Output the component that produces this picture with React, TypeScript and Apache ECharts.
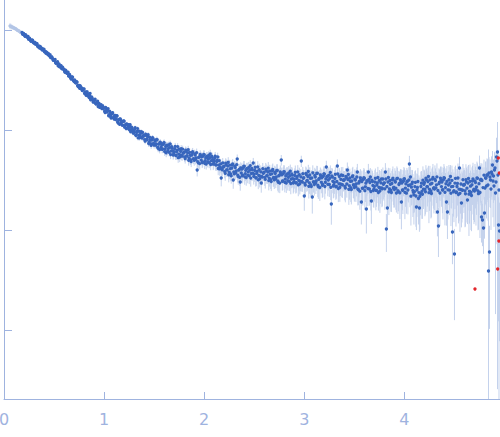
import React, { useEffect, useRef } from "react";
import * as echarts from "echarts";

// q (1/nm) and log10 intensity; sigma in units of 1e-4 (absolute intensity)
const START_Q = [0.06, 0.07, 0.08, 0.09, 0.1, 0.11, 0.12, 0.13, 0.14, 0.15, 0.16, 0.17];
const START_LOGI = [0.04, 0.035, 0.03, 0.025, 0.02, 0.015, 0.01, 0, -0.005, -0.01, -0.02, -0.025];
const START_SIGMA_E4 = [800, 700, 600, 500, 450, 400, 350, 300, 280, 260, 240, 220];

const MAIN_Q = [
  0.18, 0.19,
  0.2, 0.21, 0.22, 0.23, 0.24, 0.25, 0.26, 0.27, 0.28, 0.29,
  0.3, 0.31, 0.32, 0.33, 0.34, 0.35, 0.36, 0.37, 0.38, 0.39,
  0.4, 0.41, 0.42, 0.43, 0.44, 0.45, 0.46, 0.47, 0.48, 0.49,
  0.5, 0.51, 0.52, 0.53, 0.54, 0.55, 0.56, 0.57, 0.58, 0.59,
  0.6, 0.61, 0.62, 0.63, 0.64, 0.65, 0.66, 0.67, 0.68, 0.69,
  0.7, 0.71, 0.72, 0.73, 0.74, 0.75, 0.76, 0.77, 0.78, 0.79,
  0.8, 0.81, 0.82, 0.83, 0.84, 0.85, 0.86, 0.87, 0.88, 0.89,
  0.9, 0.91, 0.92, 0.93, 0.94, 0.95, 0.96, 0.97, 0.98, 0.99,
  1.0, 1.01, 1.02, 1.03, 1.04, 1.05, 1.06, 1.07, 1.08, 1.09,
  1.1, 1.11, 1.12, 1.13, 1.14, 1.15, 1.16, 1.17, 1.18, 1.19,
  1.2, 1.21, 1.22, 1.23, 1.24, 1.25, 1.26, 1.27, 1.28, 1.29,
  1.3, 1.31, 1.32, 1.33, 1.34, 1.35, 1.36, 1.37, 1.38, 1.39,
  1.4, 1.41, 1.42, 1.43, 1.44, 1.45, 1.46, 1.47, 1.48, 1.49,
  1.5, 1.51, 1.52, 1.53, 1.54, 1.55, 1.56, 1.57, 1.58, 1.59,
  1.6, 1.61, 1.62, 1.63, 1.64, 1.65, 1.66, 1.67, 1.68, 1.69,
  1.7, 1.71, 1.72, 1.73, 1.74, 1.75, 1.76, 1.77, 1.78, 1.79,
  1.8, 1.81, 1.82, 1.83, 1.84, 1.85, 1.86, 1.87, 1.88, 1.89,
  1.9, 1.91, 1.92, 1.93, 1.94, 1.95, 1.96, 1.97, 1.98, 1.99,
  2.0, 2.01, 2.02, 2.03, 2.04, 2.05, 2.06, 2.07, 2.08, 2.09,
  2.1, 2.11, 2.12, 2.13, 2.14, 2.15, 2.16, 2.17, 2.18, 2.19,
  2.2, 2.21, 2.22, 2.23, 2.24, 2.25, 2.26, 2.27, 2.28, 2.29,
  2.3, 2.31, 2.32, 2.33, 2.34, 2.35, 2.36, 2.37, 2.38, 2.39,
  2.4, 2.41, 2.42, 2.43, 2.44, 2.45, 2.46, 2.47, 2.48, 2.49,
  2.5, 2.51, 2.52, 2.53, 2.54, 2.55, 2.56, 2.57, 2.58, 2.59,
  2.6, 2.61, 2.62, 2.63, 2.64, 2.65, 2.66, 2.67, 2.68, 2.69,
  2.7, 2.71, 2.72, 2.73, 2.74, 2.75, 2.76, 2.77, 2.78, 2.79,
  2.8, 2.81, 2.82, 2.83, 2.84, 2.85, 2.86, 2.87, 2.88, 2.89,
  2.9, 2.91, 2.92, 2.93, 2.94, 2.95, 2.96, 2.97, 2.98, 2.99,
  3.0, 3.01, 3.02, 3.03, 3.04, 3.05, 3.06, 3.07, 3.08, 3.09,
  3.1, 3.11, 3.12, 3.13, 3.14, 3.15, 3.16, 3.17, 3.18, 3.19,
  3.2, 3.21, 3.22, 3.23, 3.24, 3.25, 3.26, 3.27, 3.28, 3.29,
  3.3, 3.31, 3.32, 3.33, 3.34, 3.35, 3.36, 3.37, 3.38, 3.39,
  3.4, 3.41, 3.42, 3.43, 3.44, 3.45, 3.46, 3.47, 3.48, 3.49,
  3.5, 3.51, 3.52, 3.53, 3.54, 3.55, 3.56, 3.57, 3.58, 3.59,
  3.6, 3.61, 3.62, 3.63, 3.64, 3.65, 3.66, 3.67, 3.68, 3.69,
  3.7, 3.71, 3.72, 3.73, 3.74, 3.75, 3.76, 3.77, 3.78, 3.79,
  3.8, 3.81, 3.82, 3.83, 3.84, 3.85, 3.86, 3.87, 3.88, 3.89,
  3.9, 3.91, 3.92, 3.93, 3.94, 3.95, 3.96, 3.97, 3.98, 3.99,
  4.0, 4.01, 4.02, 4.03, 4.04, 4.05, 4.06, 4.07, 4.08, 4.09,
  4.1, 4.11, 4.12, 4.13, 4.14, 4.15, 4.16, 4.17, 4.18, 4.19,
  4.2, 4.21, 4.22, 4.23, 4.24, 4.25, 4.26, 4.27, 4.28, 4.29,
  4.3, 4.31, 4.32, 4.33, 4.34, 4.35, 4.36, 4.37, 4.38, 4.39,
  4.4, 4.41, 4.42, 4.43, 4.44, 4.45, 4.46, 4.47, 4.48, 4.49,
  4.5, 4.51, 4.52, 4.53, 4.54, 4.55, 4.56, 4.57, 4.58, 4.59,
  4.6, 4.61, 4.62, 4.63, 4.64, 4.65, 4.66, 4.67, 4.68, 4.69,
  4.7, 4.71, 4.72, 4.73, 4.74, 4.75, 4.76, 4.77, 4.78, 4.79,
  4.8, 4.81, 4.82, 4.83, 4.84, 4.85, 4.86, 4.87, 4.88, 4.89,
  4.9, 4.91, 4.92, 4.93, 4.94, 4.95,
];

const MAIN_LOGI = [
  -0.024, -0.044,
  -0.041, -0.063, -0.054, -0.071, -0.065, -0.091, -0.092, -0.113, -0.101, -0.122,
  -0.132, -0.128, -0.142, -0.138, -0.168, -0.163, -0.165, -0.185, -0.197, -0.191,
  -0.195, -0.218, -0.234, -0.226, -0.241, -0.257, -0.248, -0.272, -0.275, -0.3,
  -0.304, -0.294, -0.333, -0.325, -0.358, -0.339, -0.367, -0.356, -0.389, -0.388,
  -0.395, -0.424, -0.409, -0.434, -0.422, -0.459, -0.459, -0.49, -0.47, -0.501,
  -0.516, -0.509, -0.529, -0.522, -0.565, -0.556, -0.557, -0.585, -0.603, -0.591,
  -0.59, -0.628, -0.653, -0.618, -0.65, -0.675, -0.635, -0.685, -0.68, -0.72,
  -0.71, -0.692, -0.741, -0.725, -0.766, -0.735, -0.768, -0.746, -0.787, -0.78,
  -0.78, -0.826, -0.785, -0.821, -0.787, -0.848, -0.835, -0.881, -0.83, -0.876,
  -0.891, -0.863, -0.888, -0.86, -0.93, -0.898, -0.888, -0.93, -0.951, -0.916,
  -0.912, -0.958, -0.986, -0.944, -0.968, -0.996, -0.947, -0.996, -0.982, -1.031,
  -1.019, -0.976, -1.054, -1.015, -1.079, -1.013, -1.064, -1.016, -1.081, -1.06,
  -1.057, -1.112, -1.054, -1.096, -1.047, -1.12, -1.099, -1.154, -1.083, -1.138,
  -1.152, -1.112, -1.139, -1.098, -1.184, -1.139, -1.121, -1.17, -1.193, -1.143,
  -1.126, -1.191, -1.228, -1.155, -1.186, -1.223, -1.139, -1.209, -1.18, -1.25,
  -1.221, -1.164, -1.255, -1.203, -1.277, -1.192, -1.25, -1.187, -1.262, -1.232,
  -1.224, -1.287, -1.213, -1.26, -1.197, -1.283, -1.253, -1.316, -1.226, -1.289,
  -1.303, -1.25, -1.28, -1.4, -1.328, -1.269, -1.244, -1.301, -1.325, -1.261,
  -1.246, -1.307, -1.34, -1.265, -1.292, -1.327, -1.239, -1.307, -1.274, -1.342,
  -1.311, -1.261, -1.349, -1.304, -1.385, -1.307, -1.372, -1.48, -1.398, -1.37,
  -1.361, -1.434, -1.345, -1.399, -1.323, -1.423, -1.386, -1.459, -1.35, -1.5,
  -1.439, -1.376, -1.41, -1.29, -1.465, -1.395, -1.52, -1.43, -1.458, -1.381,
  -1.363, -1.436, -1.476, -1.386, -1.419, -1.459, -1.356, -1.435, -1.397, -1.33,
  -1.443, -1.373, -1.478, -1.414, -1.499, -1.396, -1.462, -1.53, -1.471, -1.433,
  -1.421, -1.494, -1.404, -1.458, -1.381, -1.481, -1.443, -1.516, -1.407, -1.48,
  -1.499, -1.435, -1.469, -1.405, -1.523, -1.452, -1.42, -1.3, -1.514, -1.437,
  -1.418, -1.491, -1.531, -1.441, -1.474, -1.514, -1.411, -1.49, -1.452, -1.531,
  -1.493, -1.423, -1.528, -1.464, -1.549, -1.446, -1.512, -1.31, -1.521, -1.483,
  -1.66, -1.55, -1.445, -1.505, -1.415, -1.528, -1.483, -1.565, -1.67, -1.52,
  -1.545, -1.47, -1.508, -1.433, -1.568, -1.485, -1.448, -1.523, -1.553, -1.463,
  -1.44, -1.523, -1.37, -1.463, -1.5, -1.545, -1.425, -1.74, -1.47, -1.56,
  -1.525, -1.443, -1.563, -1.36, -1.585, -1.465, -1.54, -1.45, -1.548, -1.503,
  -1.498, -1.58, -1.475, -1.4, -1.445, -1.558, -1.513, -1.595, -1.468, -1.55,
  -1.575, -1.5, -1.538, -1.42, -1.598, -1.515, -1.478, -1.72, -1.583, -1.493,
  -1.485, -1.568, -1.79, -1.508, -1.42, -1.59, -1.47, -1.71, -1.515, -1.605,
  -1.565, -1.483, -1.603, -1.528, -1.625, -1.505, -1.58, -1.49, -1.588, -1.543,
  -1.528, -1.42, -1.99, -1.78, -1.475, -1.588, -1.543, -1.625, -1.498, -1.58,
  -1.595, -1.52, -1.63, -1.483, -1.618, -1.535, -1.498, -1.72, -1.603, -1.513,
  -1.487, -1.581, -1.632, -1.513, -1.555, -1.34, -1.47, -1.572, -1.521, -1.623,
  -1.617, -1.524, -1.77, -1.575, -1.685, -1.78, -1.634, -1.532, -1.643, -1.592,
  -1.525, -1.618, -1.499, -1.567, -1.465, -1.593, -1.542, -1.635, -1.491, -1.584,
  -1.591, -1.506, -1.549, -1.82, -1.96, -1.523, -1.481, -1.566, -1.6, -1.498,
  -1.482, -1.576, -1.72, -1.82, -1.55, -1.601, -1.465, -1.567, -2.02, -1.618,
  -2.24, -1.484, -1.62, -1.535, -1.645, -1.38, -1.594, -1.73, -1.603, -1.552,
  -1.545, -1.638, -1.519, -1.7, -1.485, -1.613, -1.562, -1.655, -1.511, -1.604,
  -1.611, -1.526, -1.569, -1.484, -1.637, -1.38, -1.5, -1.87, -1.9, -1.98,
  -1.83, -1.48, -1.56, -1.45, -2.41, -2.22, -1.5, -1.42, -1.35, -1.46,
  -1.4, -1.63, -1.27, -1.22, -1.95, -2.01,
];

const MAIN_SIGMA_E4 = [
  160, 155,
  150, 148, 146, 144, 142, 140, 138, 136, 134, 132,
  130, 128, 125, 122, 120, 118, 115, 112, 110, 108,
  105, 102, 100, 98, 96, 94, 92, 90, 88, 86,
  84, 82, 80, 78, 76, 74, 72, 70, 68, 66,
  64, 62, 61, 60, 58, 57, 56, 55, 54, 53,
  52, 51, 50, 49, 48, 47, 46, 45, 45, 44,
  44, 43, 43, 42, 42, 41, 41, 40, 40, 40,
  39, 39, 39, 38, 38, 38, 38, 37, 37, 37,
  37, 37, 37, 37, 37, 38, 38, 38, 38, 38,
  39, 39, 40, 40, 41, 41, 42, 42, 43, 43,
  44, 44, 45, 45, 46, 46, 47, 47, 48, 48,
  48, 49, 49, 50, 50, 50, 51, 51, 51, 52,
  52, 52, 52, 53, 53, 53, 53, 54, 54, 54,
  54, 54, 55, 55, 55, 55, 55, 56, 56, 56,
  56, 55, 57, 56, 58, 55, 57, 56, 58, 57,
  56, 58, 55, 57, 59, 56, 58, 57, 55, 58,
  57, 55, 58, 56, 59, 57, 55, 58, 56, 57,
  58, 56, 57, 55, 59, 57, 58, 56, 57, 55,
  56, 58, 55, 57, 59, 56, 58, 57, 55, 58,
  57, 55, 58, 56, 59, 57, 55, 58, 56, 57,
  56, 58, 55, 57, 59, 56, 58, 57, 55, 58,
  57, 55, 58, 56, 59, 57, 55, 58, 56, 57,
  56, 58, 57, 59, 57, 60, 58, 57, 59, 58,
  58, 60, 57, 59, 61, 58, 60, 59, 57, 60,
  59, 61, 58, 60, 62, 59, 61, 60, 58, 61,
  60, 62, 59, 61, 63, 60, 62, 61, 59, 62,
  61, 63, 60, 62, 64, 61, 63, 62, 60, 63,
  62, 64, 61, 63, 65, 62, 64, 63, 61, 64,
  63, 65, 62, 66, 64, 67, 63, 65, 68, 64,
  65, 67, 64, 68, 66, 69, 65, 67, 70, 66,
  67, 69, 66, 70, 68, 71, 67, 69, 72, 68,
  69, 71, 68, 72, 70, 73, 69, 71, 74, 70,
  71, 74, 70, 75, 72, 76, 71, 74, 77, 73,
  74, 77, 73, 78, 75, 79, 74, 77, 80, 76,
  77, 80, 70, 81, 78, 82, 77, 80, 83, 79,
  80, 83, 79, 84, 81, 85, 80, 83, 86, 82,
  83, 86, 42, 60, 84, 88, 83, 86, 89, 85,
  86, 89, 85, 90, 87, 91, 86, 89, 92, 88,
  89, 92, 88, 93, 90, 94, 89, 92, 95, 91,
  92, 95, 70, 96, 93, 70, 92, 95, 98, 94,
  95, 98, 94, 99, 96, 100, 95, 98, 101, 97,
  98, 101, 97, 65, 56, 103, 98, 101, 104, 100,
  102, 106, 80, 70, 104, 110, 103, 107, 50, 105,
  45, 112, 108, 116, 110, 118, 109, 80, 120, 113,
  115, 122, 118, 85, 120, 128, 119, 124, 130, 123,
  125, 132, 128, 136, 130, 138, 129, 60, 57, 47,
  66, 150, 145, 155, 600, 50, 150, 165, 170, 160,
  200, 220, 300, 600, 100, 90,
];

// interleaved measurements (half-step q)
const MID_Q = [
  0.185, 0.195,
  0.205, 0.215, 0.225, 0.235, 0.245, 0.255, 0.265, 0.275, 0.285, 0.295,
  0.305, 0.315, 0.325, 0.335, 0.345, 0.355, 0.365, 0.375, 0.385, 0.395,
  0.405, 0.415, 0.425, 0.435, 0.445, 0.455, 0.465, 0.475, 0.485, 0.495,
  0.505, 0.515, 0.525, 0.535, 0.545, 0.555, 0.565, 0.575, 0.585, 0.595,
  0.605, 0.615, 0.625, 0.635, 0.645, 0.655, 0.665, 0.675, 0.685, 0.695,
  0.705, 0.715, 0.725, 0.735, 0.745, 0.755, 0.765, 0.775, 0.785, 0.795,
  0.805, 0.815, 0.825, 0.835, 0.845, 0.855, 0.865, 0.875, 0.885, 0.895,
  0.905, 0.915, 0.925, 0.935, 0.945, 0.955, 0.965, 0.975, 0.985, 0.995,
  1.005, 1.015, 1.025, 1.035, 1.045, 1.055, 1.065, 1.075, 1.085, 1.095,
  1.105, 1.115, 1.125, 1.135, 1.145, 1.155, 1.165, 1.175, 1.185, 1.195,
  1.205, 1.215, 1.225, 1.235, 1.245, 1.255, 1.265, 1.275, 1.285, 1.295,
  1.305, 1.315, 1.325, 1.335, 1.345, 1.355, 1.365, 1.375, 1.385, 1.395,
  1.405, 1.415, 1.425, 1.435, 1.445, 1.455, 1.465, 1.475, 1.485, 1.495,
  1.505, 1.515, 1.525, 1.535, 1.545, 1.555, 1.565, 1.575, 1.585, 1.595,
  1.605, 1.615, 1.625, 1.635, 1.645, 1.655, 1.665, 1.675, 1.685, 1.695,
  1.705, 1.715, 1.725, 1.735, 1.745, 1.755, 1.765, 1.775, 1.785, 1.795,
  1.805, 1.815, 1.825, 1.835, 1.845, 1.855, 1.865, 1.875, 1.885, 1.895,
  1.905, 1.915, 1.925, 1.935, 1.945, 1.955, 1.965, 1.975, 1.985, 1.995,
  2.005, 2.015, 2.025, 2.035, 2.045, 2.055, 2.065, 2.075, 2.085, 2.095,
  2.105, 2.115, 2.125, 2.135, 2.145, 2.155, 2.165, 2.175, 2.185, 2.195,
  2.205, 2.215, 2.225, 2.235, 2.245, 2.255, 2.265, 2.275, 2.285, 2.295,
  2.305, 2.315, 2.325, 2.335, 2.345, 2.355, 2.365, 2.375, 2.385, 2.395,
  2.405, 2.415, 2.425, 2.435, 2.445, 2.455, 2.465, 2.475, 2.485, 2.495,
  2.505, 2.515, 2.525, 2.535, 2.545, 2.555, 2.565, 2.575, 2.585, 2.595,
  2.605, 2.615, 2.625, 2.635, 2.645, 2.655, 2.665, 2.675, 2.685, 2.695,
  2.705, 2.715, 2.725, 2.735, 2.745, 2.755, 2.765, 2.775, 2.785, 2.795,
  2.805, 2.815, 2.825, 2.835, 2.845, 2.855, 2.865, 2.875, 2.885, 2.895,
  2.905, 2.915, 2.925, 2.935, 2.945, 2.955, 2.965, 2.975, 2.985, 2.995,
  3.005, 3.015, 3.025, 3.035, 3.045, 3.055, 3.065, 3.075, 3.085, 3.095,
  3.105, 3.115, 3.125, 3.135, 3.145, 3.155, 3.165, 3.175, 3.185, 3.195,
  3.205, 3.215, 3.225, 3.235, 3.245, 3.255, 3.265, 3.275, 3.285, 3.295,
  3.305, 3.315, 3.325, 3.335, 3.345, 3.355, 3.365, 3.375, 3.385, 3.395,
  3.405, 3.415, 3.425, 3.435, 3.445, 3.455, 3.465, 3.475, 3.485, 3.495,
  3.505, 3.515, 3.525, 3.535, 3.545, 3.555, 3.565, 3.575, 3.585, 3.595,
  3.605, 3.615, 3.625, 3.635, 3.645, 3.655, 3.665, 3.675, 3.685, 3.695,
  3.705, 3.715, 3.725, 3.735, 3.745, 3.755, 3.765, 3.775, 3.785, 3.795,
  3.805, 3.815, 3.825, 3.835, 3.845, 3.855, 3.865, 3.875, 3.885, 3.895,
  3.905, 3.915, 3.925, 3.935, 3.945, 3.955, 3.965, 3.975, 3.985, 3.995,
  4.005, 4.015, 4.025, 4.035, 4.045, 4.055, 4.065, 4.075, 4.085, 4.095,
  4.105, 4.115, 4.125, 4.135, 4.145, 4.155, 4.165, 4.175, 4.185, 4.195,
  4.205, 4.215, 4.225, 4.235, 4.245, 4.255, 4.265, 4.275, 4.285, 4.295,
  4.305, 4.315, 4.325, 4.335, 4.345, 4.355, 4.365, 4.375, 4.385, 4.395,
  4.405, 4.415, 4.425, 4.435, 4.445, 4.455, 4.465, 4.475, 4.485, 4.495,
  4.505, 4.515, 4.525, 4.535, 4.545, 4.555, 4.565, 4.575, 4.585, 4.595,
  4.605, 4.615, 4.625, 4.635, 4.645, 4.655, 4.665, 4.675, 4.685, 4.695,
  4.705, 4.715, 4.725, 4.735, 4.745, 4.755, 4.765, 4.775, 4.785, 4.795,
  4.805, 4.815, 4.825, 4.835, 4.845, 4.855, 4.865, 4.875, 4.885, 4.895,
  4.905, 4.915, 4.925, 4.935, 4.945,
];

const MID_LOGI = [
  -0.04, -0.035,
  -0.055, -0.047, -0.067, -0.068, -0.092, -0.082, -0.105, -0.103, -0.102, -0.125,
  -0.122, -0.142, -0.134, -0.161, -0.16, -0.181, -0.171, -0.181, -0.2, -0.191,
  -0.219, -0.216, -0.222, -0.243, -0.237, -0.251, -0.276, -0.268, -0.286, -0.302,
  -0.298, -0.328, -0.325, -0.317, -0.35, -0.369, -0.36, -0.382, -0.371, -0.391,
  -0.414, -0.401, -0.429, -0.428, -0.461, -0.445, -0.479, -0.474, -0.472, -0.505,
  -0.5, -0.529, -0.516, -0.556, -0.553, -0.583, -0.566, -0.58, -0.606, -0.591,
  -0.635, -0.62, -0.623, -0.658, -0.638, -0.658, -0.698, -0.67, -0.698, -0.718,
  -0.7, -0.736, -0.728, -0.712, -0.753, -0.774, -0.755, -0.78, -0.758, -0.781,
  -0.812, -0.774, -0.817, -0.804, -0.858, -0.813, -0.867, -0.843, -0.827, -0.877,
  -0.853, -0.895, -0.856, -0.919, -0.898, -0.944, -0.898, -0.912, -0.951, -0.909,
  -0.972, -0.944, -0.94, -0.982, -0.947, -0.968, -1.017, -0.972, -1.003, -1.028,
  -0.995, -1.051, -1.025, -0.986, -1.051, -1.079, -1.036, -1.073, -1.025, -1.058,
  -1.096, -1.042, -1.093, -1.071, -1.136, -1.073, -1.138, -1.102, -1.077, -1.136,
  -1.1, -1.15, -1.096, -1.173, -1.141, -1.195, -1.132, -1.146, -1.19, -1.132,
  -1.216, -1.165, -1.153, -1.212, -1.15, -1.176, -1.246, -1.167, -1.21, -1.241,
  -1.19, -1.254, -1.218, -1.166, -1.241, -1.271, -1.214, -1.255, -1.192, -1.228,
  -1.27, -1.201, -1.259, -1.229, -1.304, -1.224, -1.299, -1.252, -1.217, -1.286,
  -1.238, -1.295, -1.226, -1.316, -1.274, -1.336, -1.256, -1.269, -1.32, -1.245,
  -1.334, -1.279, -1.264, -1.32, -1.255, -1.278, -1.345, -1.263, -1.303, -1.332,
  -1.283, -1.349, -1.315, -1.27, -1.352, -1.389, -1.339, -1.387, -1.329, -1.367,
  -1.414, -1.331, -1.398, -1.361, -1.448, -1.352, -1.439, -1.382, -1.339, -1.419,
  -1.362, -1.429, -1.346, -1.451, -1.401, -1.474, -1.378, -1.392, -1.452, -1.363,
  -1.468, -1.404, -1.386, -1.452, -1.375, -1.402, -1.481, -1.384, -1.431, -1.464,
  -1.405, -1.478, -1.433, -1.369, -1.455, -1.488, -1.418, -1.464, -1.387, -1.427,
  -1.474, -1.391, -1.457, -1.42, -1.506, -1.41, -1.496, -1.439, -1.395, -1.475,
  -1.422, -1.488, -1.405, -1.51, -1.459, -1.531, -1.435, -1.449, -1.508, -1.418,
  -1.523, -1.459, -1.441, -1.507, -1.43, -1.457, -1.535, -1.439, -1.486, -1.519,
  -1.455, -1.528, -1.483, -1.419, -1.505, -1.538, -1.468, -1.514, -1.437, -1.477,
  -1.533, -1.435, -1.51, -1.465, -1.563, -1.45, -1.548, -1.48, -1.428, -1.518,
  -1.455, -1.53, -1.433, -1.553, -1.493, -1.575, -1.463, -1.478, -1.545, -1.44,
  -1.565, -1.49, -1.468, -1.543, -1.453, -1.483, -1.573, -1.46, -1.513, -1.55,
  -1.485, -1.568, -1.515, -1.44, -1.538, -1.575, -1.493, -1.545, -1.455, -1.5,
  -1.563, -1.465, -1.54, -1.495, -1.593, -1.48, -1.578, -1.51, -1.458, -1.548,
  -1.492, -1.567, -1.47, -1.59, -1.53, -1.612, -1.5, -1.515, -1.582, -1.477,
  -1.607, -1.532, -1.51, -1.585, -1.495, -1.525, -1.615, -1.502, -1.555, -1.592,
  -1.52, -1.603, -1.55, -1.475, -1.573, -1.61, -1.528, -1.58, -1.49, -1.535,
  -1.588, -1.49, -1.565, -1.52, -1.618, -1.505, -1.603, -1.535, -1.483, -1.573,
  -1.508, -1.583, -1.486, -1.606, -1.546, -1.628, -1.516, -1.531, -1.598, -1.493,
  -1.623, -1.539, -1.515, -1.6, -1.5, -1.55, -1.662, -1.539, -1.604, -1.649,
  -1.566, -1.66, -1.6, -1.515, -1.626, -1.663, -1.565, -1.614, -1.502, -1.543,
  -1.593, -1.482, -1.567, -1.516, -1.627, -1.499, -1.61, -1.533, -1.474, -1.576,
  -1.494, -1.579, -1.469, -1.605, -1.537, -1.63, -1.503, -1.52, -1.596, -1.477,
  -1.623, -1.538, -1.513, -1.598, -1.496, -1.53, -1.632, -1.504, -1.564, -1.606,
  -1.531, -1.625, -1.565, -1.48, -1.591, -1.633, -1.54, -1.599, -1.497, -1.548,
  -1.608, -1.497, -1.582, -1.531, -1.642, -1.514, -1.625, -1.548, -1.489, -1.591,
  -1.509, -1.594, -1.479, -1.61, -1.537, -1.625, -1.493, -1.505, -1.576, -1.452,
  -1.58, -1.48, -1.45, -1.55, -1.43, -1.47, -1.59, -1.44, -1.51, -1.56,
  -1.38, -1.52, -1.31, -1.45, -1.6,
];

const MID_SIGMA_E4 = [
  158, 152,
  149, 147, 145, 143, 141, 139, 137, 135, 133, 131,
  129, 126, 123, 121, 119, 116, 113, 111, 109, 106,
  103, 101, 99, 97, 95, 93, 91, 89, 87, 85,
  83, 81, 79, 77, 75, 73, 71, 69, 67, 65,
  63, 62, 60, 59, 58, 56, 55, 54, 53, 52,
  51, 50, 49, 48, 47, 46, 45, 45, 44, 44,
  43, 43, 42, 42, 41, 41, 40, 40, 40, 39,
  39, 39, 38, 38, 38, 38, 37, 37, 37, 37,
  37, 37, 37, 37, 37, 38, 38, 38, 38, 39,
  39, 40, 40, 41, 41, 42, 42, 43, 43, 44,
  44, 45, 45, 46, 46, 47, 47, 48, 48, 48,
  49, 49, 50, 50, 50, 51, 51, 51, 52, 52,
  52, 52, 53, 53, 53, 53, 54, 54, 54, 54,
  54, 55, 55, 55, 55, 55, 56, 56, 56, 56,
  57, 55, 58, 56, 57, 59, 56, 58, 55, 57,
  57, 55, 58, 56, 57, 59, 56, 58, 55, 57,
  57, 55, 58, 56, 57, 59, 56, 58, 55, 57,
  57, 55, 58, 56, 57, 59, 56, 58, 55, 57,
  57, 55, 58, 56, 57, 59, 56, 58, 55, 57,
  57, 55, 58, 56, 57, 59, 56, 58, 55, 57,
  57, 55, 58, 56, 57, 59, 56, 58, 55, 57,
  57, 55, 58, 56, 57, 59, 56, 58, 55, 57,
  57, 59, 58, 60, 58, 57, 59, 58, 60, 59,
  59, 61, 58, 60, 62, 59, 61, 60, 58, 61,
  60, 62, 59, 61, 63, 60, 62, 61, 59, 62,
  61, 63, 60, 62, 64, 61, 63, 62, 60, 63,
  62, 64, 61, 63, 65, 62, 64, 63, 61, 64,
  63, 65, 62, 64, 66, 63, 65, 64, 62, 65,
  66, 64, 68, 65, 67, 69, 64, 66, 70, 67,
  68, 66, 70, 67, 69, 71, 66, 68, 72, 69,
  70, 68, 72, 69, 71, 73, 68, 70, 74, 71,
  72, 70, 74, 71, 73, 75, 70, 72, 76, 73,
  76, 74, 78, 75, 77, 79, 74, 76, 80, 77,
  82, 80, 84, 81, 83, 85, 80, 82, 86, 83,
  88, 86, 90, 87, 89, 91, 86, 88, 92, 89,
  94, 92, 96, 93, 95, 97, 92, 94, 98, 95,
  99, 97, 101, 98, 100, 102, 97, 99, 103, 100,
  104, 102, 106, 103, 105, 107, 102, 104, 108, 105,
  110, 107, 112, 108, 111, 113, 107, 110, 114, 111,
  114, 111, 116, 112, 115, 117, 111, 114, 118, 115,
  118, 115, 120, 116, 119, 121, 115, 118, 122, 119,
  122, 119, 124, 120, 123, 125, 119, 122, 126, 123,
  127, 123, 129, 125, 128, 130, 124, 127, 131, 128,
  133, 129, 136, 131, 134, 137, 130, 133, 138, 135,
  140, 136, 143, 138, 141, 145, 137, 140, 146, 142,
  148, 144, 151, 146, 150, 154, 145, 149, 156, 152,
  160, 155, 165, 158, 163, 170, 157, 162, 175, 168,
  190, 230, 260, 280, 320,
];

// points flagged as outliers (drawn in red)
const OUT_Q = [4.705, 4.932, 4.938, 4.944, 4.948];
const OUT_LOGI = [-2.59, -2.39, -1.28, -2.11, -1.43];

const X_TICKS = [0, 1, 2, 3, 4];
const Y_TICKS = [0.001, 0.01, 0.1, 1];
const X_MAX = 4.955;
const Y_MIN_LOG = -3.69;
const Y_MAX_LOG = 0.3;

const AXIS_COLOR = "#9fb3df";

export default function App() {
  const ref = useRef<HTMLDivElement>(null);

  useEffect(() => {
    if (!ref.current) return;
    const chart = echarts.init(ref.current, null, { renderer: "svg" });
    const yMin = Math.pow(10, Y_MIN_LOG);
    const yMax = Math.pow(10, Y_MAX_LOG);

    const allQ = [...MAIN_Q, ...MID_Q];
    const allL = [...MAIN_LOGI, ...MID_LOGI];
    const allS = [...MAIN_SIGMA_E4, ...MID_SIGMA_E4];

    const toPoints = (qs: number[], ls: number[]) => qs.map((q, i) => [q, Math.pow(10, ls[i])]);
    const toBars = (qs: number[], ls: number[], ss: number[]) =>
      qs.map((q, i) => {
        const I = Math.pow(10, ls[i]);
        const s = ss[i] * 1e-4;
        return [q, Math.max(I - s, yMin), Math.min(I + s, yMax)];
      });

    const barSeries = (data: number[][], color: string) => ({
      type: "custom",
      data,
      encode: { x: 0, y: [1, 2] },
      silent: true,
      z: 1,
      renderItem: (_p: any, api: any) => {
        const x = api.value(0);
        const a = api.coord([x, api.value(2)]);
        const b = api.coord([x, api.value(1)]);
        return {
          type: "line",
          shape: { x1: a[0], y1: a[1], x2: b[0], y2: b[1] },
          style: { stroke: color, lineWidth: 1 },
        };
      },
    });

    const dots = (data: number[][], color: string, z: number) => ({
      type: "scatter",
      data,
      symbol: "circle",
      symbolSize: 3.3,
      itemStyle: { color, opacity: 1 },
      silent: true,
      large: false,
      z,
    });

    chart.setOption({
      animation: false,
      grid: { left: 4, right: 0, top: 0, bottom: 38, containLabel: false, outerBoundsMode: "none" },
      xAxis: {
        type: "value",
        min: 0,
        max: X_MAX,
        axisLine: { show: true, onZero: false, lineStyle: { color: AXIS_COLOR, width: 1 } },
        axisTick: { show: true, inside: true, length: 7, customValues: X_TICKS, lineStyle: { color: AXIS_COLOR } },
        axisLabel: {
          show: true,
          customValues: X_TICKS,
          color: AXIS_COLOR,
          fontSize: 16,
          margin: 12,
          fontFamily: "DejaVu Sans",
        },
        splitLine: { show: false },
      },
      yAxis: {
        type: "log",
        logBase: 10,
        min: yMin,
        max: yMax,
        axisLine: { show: true, onZero: false, lineStyle: { color: AXIS_COLOR, width: 1 } },
        axisTick: { show: true, inside: true, length: 8, customValues: Y_TICKS, lineStyle: { color: AXIS_COLOR } },
        axisLabel: { show: false },
        splitLine: { show: false },
      },
      series: [
        barSeries(toBars(START_Q, START_LOGI, START_SIGMA_E4), "#d3def1"),
        barSeries(toBars(allQ, allL, allS), "#c4d2ec"),
        dots(toPoints(START_Q, START_LOGI), "#b3c5e6", 2),
        dots(toPoints(allQ, allL), "#3866bd", 3),
        dots(toPoints(OUT_Q, OUT_LOGI), "#e3262b", 4),
      ],
    });
    return () => chart.dispose();
  }, []);

  return (
    <div
      ref={ref}
      style={{ position: "absolute", left: 0, top: 0, width: 500, height: 437 }}
    />
  );
}
